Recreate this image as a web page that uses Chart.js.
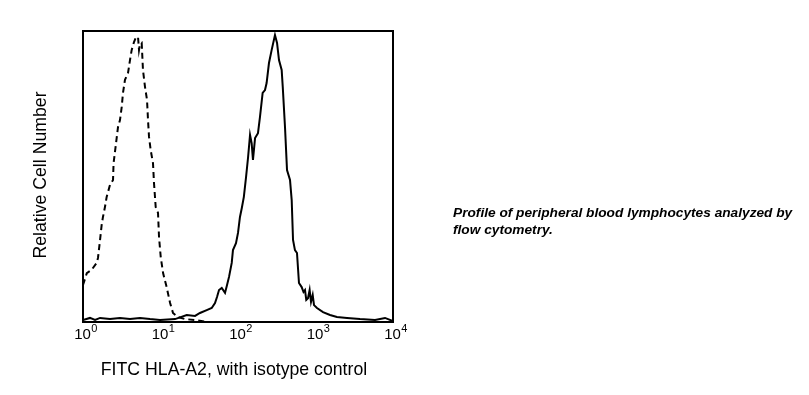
<!DOCTYPE html>
<html>
<head>
<meta charset="utf-8">
<script src="https://cdn.jsdelivr.net/npm/chart.js@4.4.1/dist/chart.umd.min.js"></script>
<style>
  html, body { margin: 0; padding: 0; background: #fff; }
  #wrap { position: relative; width: 809px; height: 395px; }
  #c { position: absolute; left: 0; top: 0; }
  #caption {
    position: absolute; left: 453px; top: 204px;
    font: italic bold 13.7px "Liberation Sans", Arial, sans-serif;
    line-height: 17px; color: #000; white-space: nowrap;
  }
</style>
</head>
<body>
<div id="wrap">
  <canvas id="c" width="809" height="395"></canvas>
  <div id="caption">Profile of peripheral blood lymphocytes analyzed by<br>flow cytometry.</div>
</div>
<script>
// Fluorescence intensity (log axis) and relative cell number (0-100)
const isotypeX = [1.00, 1.12, 1.29, 1.50, 1.56, 1.66, 1.74, 1.81, 1.92, 2.02, 2.23, 2.44, 2.48, 2.67, 2.83, 3.00, 3.16, 3.28, 3.48, 3.81, 4.04, 4.25, 4.55, 4.83, 5.13, 5.28, 5.44, 5.72, 5.94, 6.31, 6.70, 6.90, 7.11, 7.47, 8.00, 8.24, 8.67, 9.29, 9.57, 10.07, 10.8, 12.0, 13.3, 14.5, 16.8, 20.7, 27.9, 40.0];
const isotypeY = [12.7, 16.8, 17.9, 20.3, 22.0, 28.2, 33.3, 36.1, 39.5, 43.0, 47.1, 48.8, 54.6, 61.5, 67.0, 69.4, 73.9, 78.7, 83.2, 85.6, 90.0, 93.5, 96.2, 97.9, 97.9, 93.5, 95.5, 95.9, 86.6, 80.8, 76.3, 69.4, 63.6, 59.1, 54.6, 47.8, 39.5, 37.5, 29.2, 22.3, 16.8, 12.0, 6.5, 3.1, 1.7, 1.0, 0.7, 0.0];

const hlaX = [1.00, 1.23, 1.43, 1.66, 2.23, 3.00, 4.04, 5.44, 7.32, 9.86, 15.4, 21.8, 27.9, 32.3, 39.5, 45.8, 50.5, 53.6, 56.9, 61.7, 68.0, 72.2, 76.6, 83.0, 86.1, 94.2, 100, 106, 112, 119, 127, 135, 143, 150, 156, 166, 181, 192, 208, 223, 234, 251, 272, 300, 319, 338, 366, 378, 404, 429, 469, 493, 513, 543, 577, 612, 663, 700, 732, 760, 800, 840, 875, 920, 957, 1045, 1250, 1540, 1890, 2550, 3750, 5860, 7890, 10000];
const hlaY = [0.7, 1.4, 0.7, 1.4, 1.0, 1.4, 1.0, 1.4, 1.0, 0.7, 1.0, 2.4, 2.1, 3.1, 4.1, 4.8, 6.5, 8.6, 11.0, 11.7, 10.0, 12.7, 15.5, 20.3, 24.7, 27.1, 30.6, 36.1, 39.2, 43.0, 49.8, 56.7, 64.3, 61.5, 55.7, 63.2, 64.9, 70.4, 78.7, 79.7, 82.1, 89.0, 93.5, 98.6, 95.9, 90.0, 86.6, 80.8, 67.0, 52.2, 48.8, 41.9, 28.2, 24.7, 23.7, 13.4, 12.0, 10.3, 11.0, 7.6, 8.2, 11.0, 6.9, 9.3, 5.8, 4.8, 3.4, 2.4, 1.7, 1.4, 1.0, 0.7, 1.4, 0.3];

const decadeTicks = [1, 10, 100, 1000, 10000];
const decadeExponents = ['0', '1', '2', '3', '4'];
const xTitle = 'FITC HLA-A2, with isotype control';
const yTitle = 'Relative Cell Number';

const FONT = '"Liberation Sans", Arial, sans-serif';

const toPts = (xs, ys) => xs.map((x, i) => ({ x: x, y: ys[i] }));

const decor = {
  id: 'decor',
  afterDraw(chart) {
    const { ctx, chartArea: a, scales } = chart;
    ctx.save();
    // frame
    ctx.strokeStyle = '#000';
    ctx.lineWidth = 2;
    ctx.strokeRect(a.left, a.top, a.right - a.left, a.bottom - a.top);
    // tick labels 10^n
    ctx.fillStyle = '#000';
    decadeTicks.forEach((v, i) => {
      const px = scales.x.getPixelForValue(v);
      ctx.font = '15px ' + FONT;
      ctx.textAlign = 'center';
      ctx.textBaseline = 'alphabetic';
      ctx.fillText('10', px - 0.5, 339);
      const w = ctx.measureText('10').width;
      ctx.font = '11px ' + FONT;
      ctx.textAlign = 'left';
      ctx.fillText(decadeExponents[i], px - 0.5 + w / 2 + 0.5, 332);
    });
    // axis titles
    ctx.font = '17.7px ' + FONT;
    ctx.textAlign = 'center';
    ctx.textBaseline = 'alphabetic';
    ctx.fillText(xTitle, 234, 375);
    ctx.translate(46, 175);
    ctx.rotate(-Math.PI / 2);
    ctx.fillText(yTitle, 0, 0);
    ctx.restore();
  }
};

new Chart(document.getElementById('c'), {
  type: 'line',
  data: {
    datasets: [
      {
        label: 'Isotype control',
        data: toPts(isotypeX, isotypeY),
        borderColor: '#000',
        borderWidth: 2,
        borderDash: [6, 4],
        pointRadius: 0,
        tension: 0,
        fill: false
      },
      {
        label: 'FITC HLA-A2',
        data: toPts(hlaX, hlaY),
        borderColor: '#000',
        borderWidth: 2,
        pointRadius: 0,
        tension: 0,
        fill: false
      }
    ]
  },
  options: {
    responsive: false,
    animation: false,
    layout: { padding: { left: 83, right: 416, top: 31, bottom: 73 } },
    plugins: { legend: { display: false }, tooltip: { enabled: false } },
    scales: {
      x: {
        type: 'logarithmic', min: 1, max: 10000,
        grid: { display: false }, border: { display: false },
        ticks: { display: false },
        afterFit(s) { s.height = 0; }
      },
      y: {
        type: 'linear', min: 0, max: 100,
        grid: { display: false }, border: { display: false },
        ticks: { display: false },
        afterFit(s) { s.width = 0; }
      }
    }
  },
  plugins: [decor]
});
</script>
</body>
</html>
